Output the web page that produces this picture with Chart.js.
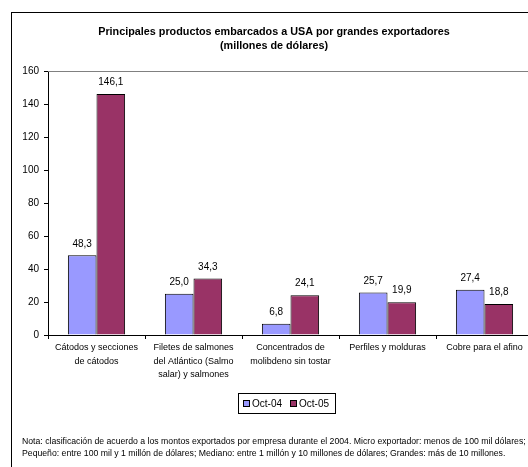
<!DOCTYPE html>
<html>
<head>
<meta charset="utf-8">
<script src="https://cdn.jsdelivr.net/npm/chart.js@4.4.3/dist/chart.umd.min.js"></script>
<style>
  html, body { margin: 0; padding: 0; background: #fff; overflow: hidden; }
  canvas { display: block; }
</style>
</head>
<body>
<canvas id="chart" width="560" height="480"></canvas>
<script>
// data
const categories = [
  ['Cátodos y secciones', 'de cátodos'],
  ['Filetes de salmones', 'del Atlántico (Salmo', 'salar) y salmones'],
  ['Concentrados de', 'molibdeno sin tostar'],
  'Perfiles y molduras',
  'Cobre para el afino'
];
const seriesNames = ['Oct-04', 'Oct-05'];
const oct04 = [48.3, 25.0, 6.8, 25.7, 27.4];
const oct05 = [146.1, 34.3, 24.1, 19.9, 18.8];
const yTicks = [0, 20, 40, 60, 80, 100, 120, 140, 160];

const titleLines = [
  'Principales productos embarcados a USA por grandes exportadores',
  '(millones de dólares)'
];
const noteLines = [
  'Nota: clasificación de acuerdo a los montos exportados por empresa durante el 2004. Micro exportador: menos de 100 mil dólares;',
  'Pequeño: entre 100 mil y 1 millón de dólares; Mediano: entre 1 millón y 10 millones de dólares; Grandes: más de 10 millones.'
];

const FONT = '"Liberation Sans", Arial, sans-serif';
const fmt = v => v.toFixed(1).replace('.', ',');

// frame, title, plot top border, value labels, legend and footnote
const decorations = {
  id: 'decorations',
  beforeDraw(chart) {
    const ctx = chart.ctx;
    ctx.save();
    ctx.fillStyle = '#fff';
    ctx.fillRect(0, 0, chart.width, chart.height);
    ctx.strokeStyle = '#000';
    ctx.lineWidth = 1;
    ctx.strokeRect(11.5, 12.5, 537, 500);
    ctx.restore();
  },
  afterDraw(chart) {
    const ctx = chart.ctx;
    const area = chart.chartArea;
    ctx.save();

    // plot area top border
    ctx.strokeStyle = '#808080';
    ctx.lineWidth = 1;
    ctx.beginPath();
    ctx.moveTo(area.left, Math.round(area.top) + 0.5);
    ctx.lineTo(area.right, Math.round(area.top) + 0.5);
    ctx.stroke();

    // title
    ctx.fillStyle = '#000';
    ctx.font = 'bold 10.8px ' + FONT;
    ctx.textAlign = 'center';
    ctx.textBaseline = 'middle';
    ctx.fillText(titleLines[0], 274, 32);
    ctx.fillText(titleLines[1], 274, 46);

    // value labels
    ctx.font = '10px ' + FONT;
    chart.data.datasets.forEach((ds, di) => {
      chart.getDatasetMeta(di).data.forEach((bar, i) => {
        ctx.fillText(fmt(ds.data[i]), bar.x, bar.y - 11.5);
      });
    });

    // legend
    const lx = 238, ly = 393, lw = 97, lh = 20;
    ctx.fillStyle = '#fff';
    ctx.fillRect(lx, ly, lw, lh);
    ctx.strokeStyle = '#000';
    ctx.strokeRect(lx + 0.5, ly + 0.5, lw, lh);
    ctx.textAlign = 'left';
    ctx.font = '10px ' + FONT;
    const itemX = [243, 290];
    chart.data.datasets.forEach((ds, di) => {
      const x = itemX[di];
      ctx.fillStyle = ds.backgroundColor;
      ctx.fillRect(x, 400, 6, 6);
      ctx.strokeStyle = '#000';
      ctx.strokeRect(x + 0.5, 400.5, 6, 6);
      ctx.fillStyle = '#000';
      ctx.fillText(ds.label, x + 9, 404);
    });

    // footnote
    ctx.font = '8.7px ' + FONT;
    ctx.fillText(noteLines[0], 22, 442);
    ctx.fillText(noteLines[1], 22, 454);
    ctx.restore();
  }
};

new Chart(document.getElementById('chart'), {
  type: 'bar',
  data: {
    labels: categories,
    datasets: [
      { label: seriesNames[0], data: oct04, backgroundColor: '#9999FF', borderColor: '#000', borderWidth: 1 },
      { label: seriesNames[1], data: oct05, backgroundColor: '#993366', borderColor: '#000', borderWidth: 1 }
    ]
  },
  options: {
    responsive: false,
    animation: false,
    devicePixelRatio: 1,
    layout: { padding: { left: 0, top: 71, right: 27, bottom: 0 } },
    datasets: { bar: { categoryPercentage: 0.59, barPercentage: 1 } },
    plugins: {
      legend: { display: false },
      title: { display: false },
      tooltip: { enabled: false }
    },
    scales: {
      x: {
        border: { color: '#000', width: 1 },
        grid: { drawOnChartArea: false, drawTicks: true, tickLength: 4, color: '#000' },
        ticks: {
          color: '#000',
          font: { family: FONT, size: 9, lineHeight: 1.5 },
          padding: 2,
          maxRotation: 0,
          autoSkip: false
        },
        afterFit(scale) { scale.height = 145; }
      },
      y: {
        min: 0,
        max: 160,
        border: { color: '#000', width: 1 },
        grid: { drawOnChartArea: false, drawTicks: true, tickLength: 4, color: '#000' },
        afterBuildTicks(scale) { scale.ticks = yTicks.map(v => ({ value: v })); },
        ticks: {
          color: '#000',
          font: { family: FONT, size: 10 },
          padding: 5
        },
        afterFit(scale) { scale.width = 48; }
      }
    }
  },
  plugins: [decorations]
});
</script>
</body>
</html>
